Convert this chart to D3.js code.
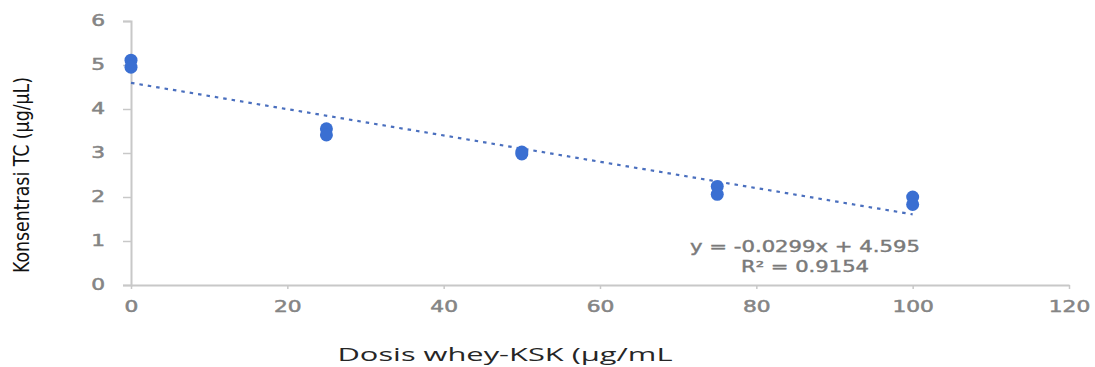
<!DOCTYPE html>
<html>
<head>
<meta charset="utf-8">
<script src="https://cdn.jsdelivr.net/npm/d3@7/dist/d3.min.js"></script>
<style>
  body { margin: 0; background: #fff; }
  svg { display: block; }
</style>
</head>
<body>
<svg id="chart" width="1095" height="367"></svg>
<script>
// Dosis whey-KSK vs Konsentrasi TC, with linear trendline
var doses = [0, 0, 25, 25, 50, 50, 75, 75, 100, 100];
var concentrations = [5.11, 4.95, 3.55, 3.41, 3.02, 2.98, 2.24, 2.06, 2.0, 1.83];
var xTicks = [0, 20, 40, 60, 80, 100, 120];
var yTicks = [0, 1, 2, 3, 4, 5, 6];
var slope = -0.0299, intercept = 4.595;
var equationLines = ["y = -0.0299x + 4.595", "R² = 0.9154"];

var svg = d3.select('#chart');

var x = d3.scaleLinear().domain([0, 120]).range([131, 1069]),
    y = d3.scaleLinear().domain([0, 6]).range([285, 21]);

var axisColor = '#c8c8c8',
    tickText = '#858585',
    pointColor = '#3a6fd2',
    stretch = 1.45;   // the original picture is stretched sideways

// y axis
var yAxis = svg.append('g')
  .attr('transform', 'translate(' + x(0) + ',0)')
  .call(d3.axisLeft(y).tickValues(yTicks).tickFormat(d3.format('d')).tickSize(8));
yAxis.select('.domain').attr('stroke', axisColor).attr('stroke-width', 2);
yAxis.selectAll('.tick line').attr('stroke', axisColor).attr('stroke-width', 1.5);
yAxis.selectAll('.tick text')
  .attr('x', -26 / stretch)
  .attr('transform', 'scale(' + stretch + ',1)')
  .attr('fill', tickText)
  .attr('stroke', tickText)
  .attr('stroke-width', 0.5)
  .style('font-family', 'DejaVu Sans, sans-serif')
  .style('font-size', '15px');

// x axis
var xAxis = svg.append('g')
  .attr('transform', 'translate(0,' + y(0) + ')')
  .call(d3.axisBottom(x).tickValues(xTicks).tickFormat(d3.format('d')).tickSize(4).tickSizeOuter(0));
xAxis.select('.domain').attr('stroke', axisColor).attr('stroke-width', 2);
xAxis.selectAll('.tick line').attr('stroke', axisColor).attr('stroke-width', 1.5);
xAxis.selectAll('.tick text')
  .attr('y', 27)
  .attr('dy', null)
  .attr('transform', 'scale(' + stretch + ',1)')
  .attr('fill', tickText)
  .attr('stroke', tickText)
  .attr('stroke-width', 0.5)
  .style('font-family', 'DejaVu Sans, sans-serif')
  .style('font-size', '15px');

// trendline
svg.append('line')
  .attr('x1', x(0)).attr('y1', y(intercept))
  .attr('x2', x(100)).attr('y2', y(intercept + slope * 100))
  .attr('stroke', '#4a6fbe')
  .attr('stroke-width', 2.2)
  .attr('stroke-dasharray', '3.5,5');

// points
svg.selectAll('circle.pt')
  .data(doses.map(function(d, i) { return { x: d, y: concentrations[i] }; }))
  .enter().append('circle')
  .attr('class', 'pt')
  .attr('cx', function(d) { return x(d.x); })
  .attr('cy', function(d) { return y(d.y); })
  .attr('r', 6.5)
  .attr('fill', pointColor);

// equation
var eqWidths = [230, 128];
svg.selectAll('text.eq')
  .data(equationLines)
  .enter().append('text')
  .attr('class', 'eq')
  .attr('x', 805)
  .attr('y', function(d, i) { return 252 + i * 20; })
  .attr('text-anchor', 'middle')
  .attr('textLength', function(d, i) { return eqWidths[i]; })
  .attr('lengthAdjust', 'spacingAndGlyphs')
  .attr('fill', '#7a7a7a')
  .attr('stroke', '#7a7a7a')
  .attr('stroke-width', 0.4)
  .style('font-family', 'DejaVu Sans, sans-serif')
  .style('font-size', '15px')
  .text(function(d) { return d; });

// axis titles
svg.append('text')
  .attr('x', 505).attr('y', 361)
  .attr('text-anchor', 'middle')
  .attr('textLength', 335)
  .attr('lengthAdjust', 'spacingAndGlyphs')
  .attr('fill', '#262626')
  .style('font-family', 'Open Sans, DejaVu Sans, sans-serif')
  .style('font-size', '19px')
  .text('Dosis whey-KSK (µg/mL');

svg.append('text')
  .attr('transform', 'translate(29,175) rotate(-90)')
  .attr('text-anchor', 'middle')
  .attr('textLength', 196)
  .attr('lengthAdjust', 'spacingAndGlyphs')
  .attr('fill', '#111')
  .style('font-family', 'Liberation Sans Narrow, DejaVu Sans Condensed, sans-serif')
  .style('font-size', '22px')
  .text('Konsentrasi TC (µg/µL)');
</script>
</body>
</html>
